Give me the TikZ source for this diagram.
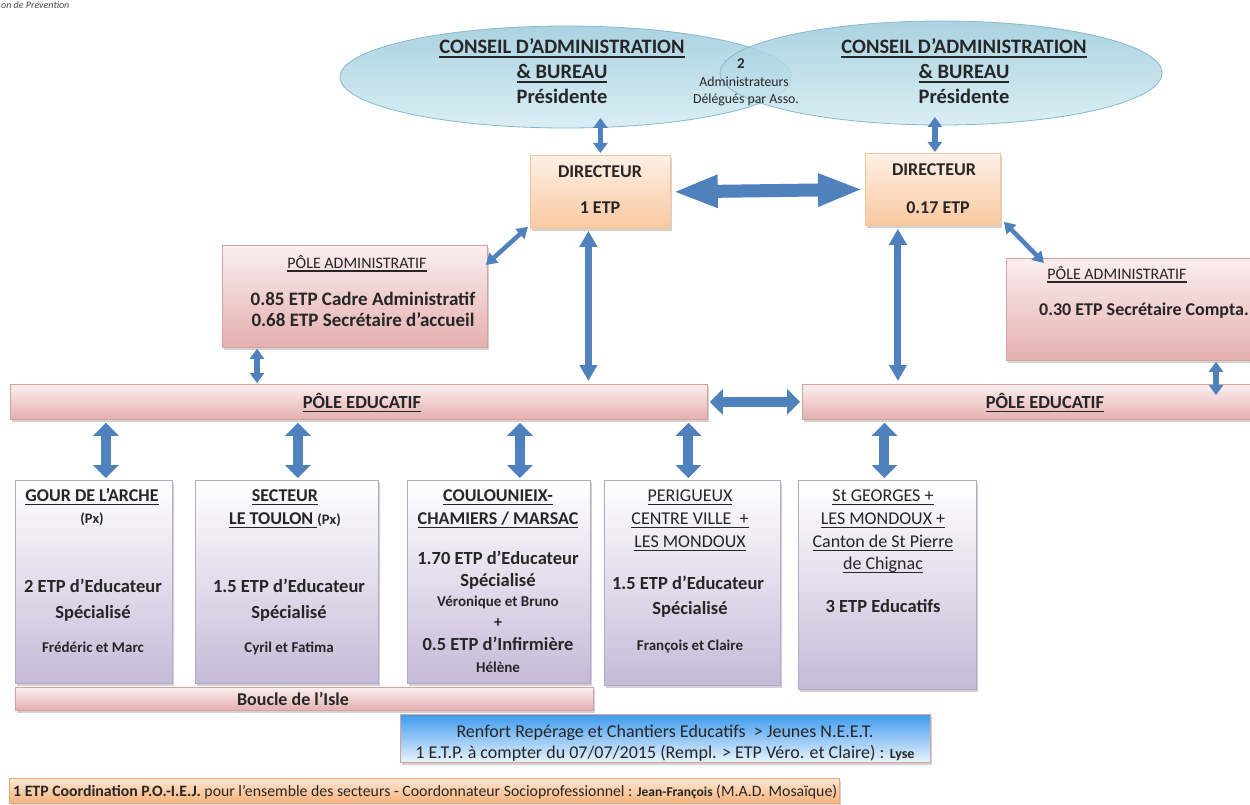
\documentclass[tikz,border=0pt]{standalone}
\usepackage{fontspec}
\setmainfont{Carlito}
\newsavebox\ulbox
\newcommand\myul[1]{\sbox\ulbox{#1}\vtop{\copy\ulbox\kern\dimexpr2.5pt-\dp\ulbox\relax\hrule height 1.2pt width \wd\ulbox}}
\usetikzlibrary{arrows.meta,shadows,shapes.geometric,calc}
\definecolor{ablue}{HTML}{4F81BD}
\definecolor{elltop}{HTML}{9DCBDC}
\definecolor{ellbot}{HTML}{D4ECF3}
\definecolor{elldraw}{HTML}{86B9CC}
\definecolor{dirtop}{HTML}{FEF0E6}
\definecolor{dirbot}{HTML}{F9C9A0}
\definecolor{dirdraw}{HTML}{F4C49C}
\definecolor{pinktop}{HTML}{FBEFEF}
\definecolor{pinkbot}{HTML}{E5AFAF}
\definecolor{pinkdraw}{HTML}{D9A0A0}
\definecolor{lavtop}{HTML}{FFFFFF}
\definecolor{lavbot}{HTML}{C6BAD8}
\definecolor{lavdraw}{HTML}{B3A8C8}
\definecolor{rtop}{HTML}{3E9BEF}
\definecolor{rbot}{HTML}{EAF3FC}
\definecolor{otop}{HTML}{FDE6D2}
\definecolor{obot}{HTML}{F7B27A}
\definecolor{odraw}{HTML}{E9A877}
\newcommand\fs[1]{\fontsize{#1}{#1}\selectfont}
\tikzset{
  box/.style={rectangle, draw, anchor=north west, inner sep=0pt, line width=0.8pt,
    drop shadow={shadow xshift=2pt, shadow yshift=-2.5pt, opacity=0.35}},
  ellbox/.style={ellipse, draw=elldraw, line width=0.8pt, top color=elltop, bottom color=ellbot, fill opacity=0.85, inner sep=0pt},
  dirbox/.style={box, top color=dirtop, bottom color=dirbot, draw=dirdraw},
  pinkbox/.style={box, top color=pinktop, bottom color=pinkbot, draw=pinkdraw},
  lavbox/.style={box, top color=lavtop, bottom color=lavbot, draw=lavdraw},
  renbox/.style={box, top color=rtop, bottom color=rbot, draw=pinkdraw},
  orbox/.style={box, top color=otop, bottom color=obot, draw=odraw},
  t/.style={inner sep=0pt, anchor=base, align=center, text=black!85},
  tw/.style={inner sep=0pt, anchor=base west, text=black!85},
  bigarrow/.style={ablue, line width=13pt, {Triangle[length=45pt,width=30pt]}-{Triangle[length=45pt,width=30pt]}},
  midarrow/.style={ablue, line width=10pt, {Triangle[length=13pt,width=25pt]}-{Triangle[length=13pt,width=25pt]}},
  longarrow/.style={ablue, line width=7pt, {Triangle[length=16pt,width=17pt]}-{Triangle[length=16pt,width=17pt]}},
  smallarrow/.style={ablue, line width=5.5pt, {Triangle[length=10pt,width=14pt]}-{Triangle[length=10pt,width=14pt]}},
  diagarrow/.style={ablue, line width=4.5pt, {Triangle[length=11pt,width=13pt]}-{Triangle[length=11pt,width=13pt]}},
}
\begin{document}
\begin{tikzpicture}[x=1pt,y=-1pt]
\useasboundingbox (0,0) rectangle (1250,805);
\fill[white] (0,0) rectangle (1250,805);

% logo fragment
\node[tw, font=\fs{10}\itshape, text=black!70] (logo) at (1,9) {on de Prévention};

% ellipses
\node[ellbox, minimum width=452pt, minimum height=102pt] (ellL) at (566,77) {};
\node[ellbox, minimum width=442pt, minimum height=104pt] (ellR) at (941,73) {};

\node[t, font=\fs{20.5}\bfseries] (cL1) at (562,54) {\myul{CONSEIL D’ADMINISTRATION}};
\node[t, font=\fs{20.5}\bfseries] (cL2) at (562,79) {\myul{\&~BUREAU}};
\node[t, font=\fs{20.5}\bfseries] (cL3) at (562,104) {Présidente};
\node[t, font=\fs{20.5}\bfseries] (cR1) at (964,54) {\myul{CONSEIL D’ADMINISTRATION}};
\node[t, font=\fs{20.5}\bfseries] (cR2) at (964,79) {\myul{\&~BUREAU}};
\node[t, font=\fs{20.5}\bfseries] (cR3) at (964,104) {Présidente};
\node[t, font=\fs{15}\bfseries] (adm1) at (741,69) {2};
\node[t, font=\fs{13.8}] (adm2) at (744,87) {Administrateurs};
\node[t, font=\fs{13.8}] (adm3) at (746,104) {Délégués par Asso.};

% directors
\node[dirbox, minimum width=140pt, minimum height=73pt] (dirL) at (530,155) {};
\node[t, font=\fs{18}\bfseries] (dirLa) at (600,178) {DIRECTEUR};
\node[t, font=\fs{18}\bfseries] (dirLb) at (600,214) {1 ETP};
\node[dirbox, minimum width=135pt, minimum height=72pt] (dirR) at (865,153) {};
\node[t, font=\fs{18}\bfseries] (dirRa) at (934,176) {DIRECTEUR};
\node[t, font=\fs{18}\bfseries] (dirRb) at (938,214) {0.17 ETP};

% admin boxes
\node[pinkbox, minimum width=265pt, minimum height=102pt] (admL) at (222,245) {};
\node[t, font=\fs{16}] (admLa) at (357,268) {\myul{PÔLE ADMINISTRATIF}};
\node[t, font=\fs{19}\bfseries] (admLb) at (363,305) {0.85 ETP Cadre Administratif};
\node[t, font=\fs{19}\bfseries] (admLc) at (363,326) {0.68 ETP Secrétaire d’accueil};
\node[pinkbox, minimum width=260pt, minimum height=102pt] (admR) at (1006,258) {};
\node[t, font=\fs{16}] (admRa) at (1117,279) {\myul{PÔLE ADMINISTRATIF}};
\node[t, font=\fs{18}\bfseries] (admRb) at (1144,315) {0.30 ETP Secrétaire Compta.};

% pole educatif bars
\node[pinkbox, minimum width=697pt, minimum height=35pt] (peL) at (10,384) {};
\node[t, font=\fs{18.5}\bfseries] (peLt) at (362,408) {\myul{PÔLE EDUCATIF}};
\node[pinkbox, minimum width=460pt, minimum height=35pt] (peR) at (802,384) {};
\node[t, font=\fs{18.5}\bfseries] (peRt) at (1045,408) {\myul{PÔLE EDUCATIF}};

% sector boxes
\node[lavbox, minimum width=157pt, minimum height=203pt] (s1) at (15,480) {};
\node[lavbox, minimum width=183pt, minimum height=203pt] (s2) at (195,480) {};
\node[lavbox, minimum width=183pt, minimum height=203pt] (s3) at (407,480) {};
\node[lavbox, minimum width=176pt, minimum height=205pt] (s4) at (604,480) {};
\node[lavbox, minimum width=178pt, minimum height=209pt] (s5) at (798,480) {};

\node[t, font=\fs{18}\bfseries] (s1a) at (92,501) {\myul{GOUR DE L’ARCHE}};
\node[t, font=\fs{14.5}\bfseries] (s1b) at (92,523) {(Px)};
\node[t, font=\fs{18.5}\bfseries] (s1c) at (93,592) {2 ETP d’Educateur};
\node[t, font=\fs{18.5}\bfseries] (s1d) at (93,618) {Spécialisé};
\node[t, font=\fs{15}\bfseries] (s1e) at (93,652) {Frédéric et Marc};

\node[t, font=\fs{18}\bfseries] (s2a) at (285,501) {\myul{SECTEUR}};
\node[t, font=\fs{18}\bfseries] (s2b) at (285,524) {\myul{LE TOULON }{\fs{14.5}(Px)}};
\node[t, font=\fs{18.5}\bfseries] (s2c) at (289,592) {1.5 ETP d’Educateur};
\node[t, font=\fs{18.5}\bfseries] (s2d) at (289,618) {Spécialisé};
\node[t, font=\fs{15}\bfseries] (s2e) at (289,652) {Cyril et Fatima};

\node[t, font=\fs{18}\bfseries] (s3a) at (498,501) {\myul{COULOUNIEIX-}};
\node[t, font=\fs{18}\bfseries] (s3b) at (498,524) {\myul{CHAMIERS / MARSAC}};
\node[t, font=\fs{18.5}\bfseries] (s3c) at (498,564) {1.70 ETP d’Educateur};
\node[t, font=\fs{18.5}\bfseries] (s3d) at (498,586) {Spécialisé};
\node[t, font=\fs{15}\bfseries] (s3e) at (498,606) {Véronique et Bruno};
\node[t, font=\fs{16}\bfseries] (s3f) at (498,627) {+};
\node[t, font=\fs{18.5}\bfseries] (s3g) at (498,650) {0.5 ETP d’Infirmière};
\node[t, font=\fs{15}\bfseries] (s3h) at (498,672) {Hélène};

\node[t, font=\fs{18}] (s4a) at (690,501) {\myul{PERIGUEUX}};
\node[t, font=\fs{18}] (s4b) at (690,524) {\myul{CENTRE VILLE~~+}};
\node[t, font=\fs{18}] (s4c) at (690,547) {\myul{LES MONDOUX}};
\node[t, font=\fs{18.5}\bfseries] (s4d) at (688,589) {1.5 ETP d’Educateur};
\node[t, font=\fs{18.5}\bfseries] (s4e) at (690,614) {Spécialisé};
\node[t, font=\fs{15}\bfseries] (s4f) at (690,650) {François et Claire};

\node[t, font=\fs{18}] (s5a) at (883,501) {\myul{St GEORGES +}};
\node[t, font=\fs{18}] (s5b) at (883,524) {\myul{LES MONDOUX +}};
\node[t, font=\fs{18}] (s5c) at (883,547) {\myul{Canton de St Pierre}};
\node[t, font=\fs{18}] (s5d) at (883,569) {\myul{de Chignac}};
\node[t, font=\fs{18.5}\bfseries] (s5e) at (883,612) {3 ETP Educatifs};

% boucle
\node[pinkbox, minimum width=578pt, minimum height=23pt] (bo) at (15,687) {};
\node[t, font=\fs{18}\bfseries] (bot) at (293,705) {Boucle de l’Isle};

% renfort
\node[renbox, minimum width=530pt, minimum height=48pt] (ren) at (400,714) {};
\node[t, font=\fs{18}] (rena) at (665,737) {Renfort Repérage et Chantiers Educatifs~~> Jeunes N.E.E.T.};
\node[t, font=\fs{18}] (renb) at (665,758) {1 E.T.P. à compter du 07/07/2015 (Rempl. > ETP Véro. et Claire) : {\fs{14}\bfseries Lyse}};

% bottom bar
\node[orbox, minimum width=830pt, minimum height=25pt] (coord) at (9,778) {};
\node[tw, font=\fs{15.8}] (coordt) at (13,796) {\textbf{1 ETP Coordination P.O.-I.E.J.} pour l’ensemble des secteurs - Coordonnateur Socioprofessionnel : {\fs{13.5}\bfseries Jean-François} (M.A.D. Mosaïque)};

% connectors
\draw[bigarrow] ($(dirL.east)+(2,0)$) -- ($(dirR.west)+(-2,0)$);
\coordinate (eL) at ($(dirL.north)+(0,-37)$);
\draw[smallarrow] (eL) -- ($(dirL.north)+(0,-2)$);
\coordinate (eR) at ($(dirR.north)+(2,-36)$);
\draw[smallarrow] (eR) -- ($(dirR.north)+(2,-1)$);
\draw[diagarrow] ($(dirL.south west)+(-2,-2)$) -- ($(admL.north east)+(-2,20)$);
\draw[diagarrow] ($(dirR.south east)+(3,-4)$) -- ($(admR.north west)+(38,5)$);
\coordinate (vL) at ($(dirL.south)+(-12,2)$);
\draw[longarrow] (vL) -- ($(vL |- peL.north)+(0,-3)$);
\coordinate (vR) at ($(dirR.south)+(-35,3)$);
\draw[longarrow] (vR) -- ($(vR |- peR.north)+(0,-3)$);
\coordinate (aL) at ($(admL.south west)+(35,1)$);
\draw[smallarrow] (aL) -- ($(aL |- peL.north)+(0,-1)$);
\coordinate (aR) at ($(admR.south west)+(210,1)$);
\draw[smallarrow] (aR) -- ($(aR |- peR.north)+(0,11)$);
\draw[midarrow] ($(peL.east)+(2,0)$) -- ($(peR.west)+(-2,0)$);
\foreach \s/\dx in {s1/12, s2/11, s3/21, s4/-4, s5/-3}{
  \coordinate (c\s) at ($(\s.north)+(\dx,-2)$);
  \draw[midarrow] (c\s) -- ($(c\s |- peL.south)+(0,3)$);
}
\end{tikzpicture}
\end{document}
